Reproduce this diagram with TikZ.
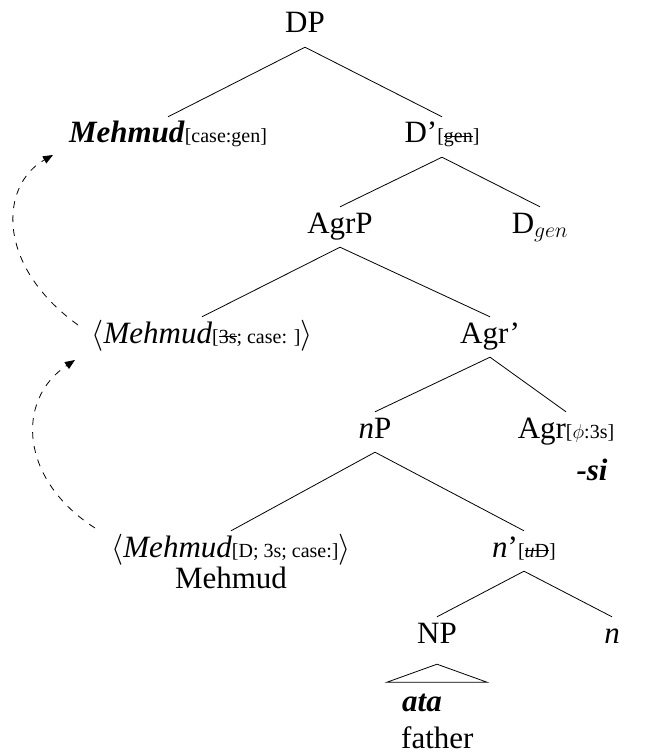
\RequirePackage{fix-cm}
\documentclass[tikz,border=0pt]{standalone}
\usepackage{fontspec}
\setmainfont{Liberation Serif}
\usetikzlibrary{arrows.meta}
\newcommand{\bigf}{\fontsize{31}{37}\selectfont}
\newcommand{\smf}{\fontsize{20}{24}\selectfont}
\newcommand{\strk}[1]{\setbox0=\hbox{#1}\rlap{\rule[0.3em]{\wd0}{0.8pt}}\box0}
\newcommand{\fe}[1]{{\smf[#1]}}
\begin{document}
\begin{tikzpicture}[x=1pt,y=-1pt,
  lbl/.style={anchor=base, inner xsep=0pt, inner ysep=4pt, text height=22pt, text depth=10pt, font=\bigf},
  edge/.style={line width=0.8pt},
  mv/.style={line width=0.8pt, dash pattern=on 7pt off 7pt, -{Triangle[length=10pt,width=8pt]}}]
\useasboundingbox (0,0) rectangle (649,754);
\node[lbl] (DP) at (305,33) {DP};
\node[lbl] (M1) at (168,143) {\textbf{\textit{Mehmud}}\/\fe{case:gen}};
\node[lbl] (Dbar) at (442,143) {D’\fe{\strk{gen}}};
\node[lbl] (AgrP) at (340,233) {AgrP};
\node[lbl] (Dgen) at (540,233) {D$_{gen}$};
\node[lbl] (T1) at (202,343) {$\langle$\textit{Mehmud}\/\fe{\strk{3s}; case: }$\rangle$};
\node[lbl] (Agrbar) at (490,343) {Agr’};
\node[lbl] (nP) at (375,438) {\textit{n}P};
\node[lbl] (Agr) at (566,438) {Agr\fe{$\phi$:3s}};
\node[lbl] (si) at (592,480) {\textbf{\textit{-si}}};
\node[lbl] (T2) at (231,557) {$\langle$\textit{Mehmud}\/\fe{D; 3s; case:}$\rangle$};
\node[lbl] (gl) at (231,588) {Mehmud};
\node[lbl] (nbar) at (524,557) {\textit{n}’\fe{\strk{\textit{u}D}}};
\node[lbl] (NP) at (437,643) {NP};
\node[lbl] (n) at (612,643) {\textit{n}};
\node[lbl, anchor=base west] (ata) at (402,711) {\textbf{\textit{ata}}};
\node[lbl, anchor=base west] (fa) at (401,748) {father};
\draw[edge] (DP.south) -- (M1.north);
\draw[edge] (DP.south) -- (Dbar.north);
\draw[edge] (Dbar.south) -- (AgrP.north);
\draw[edge] (Dbar.south) -- (Dgen.north);
\draw[edge] (AgrP.south) -- (T1.north);
\draw[edge] (AgrP.south) -- (Agrbar.north);
\draw[edge] (Agrbar.south) -- (nP.north);
\draw[edge] (Agrbar.south) -- (Agr.north);
\draw[edge] (nP.south) -- (T2.north);
\draw[edge] (nP.south) -- (nbar.north);
\draw[edge] (nbar.south) -- (NP.north);
\draw[edge] (nbar.south) -- (n.north);
\draw[edge] ([yshift=-7pt]NP.south) -- ++(-50,18) -- ++(100,0) -- cycle;
\coordinate (s1) at (95,528);
\coordinate (e1) at (75,360);
\draw[mv] (s1) .. controls (20,480) and (15,400) .. (e1);
\coordinate (s2) at (78,325);
\coordinate (e2) at (53,155);
\draw[mv] (s2) .. controls (-5,265) and (0,185) .. (e2);
\end{tikzpicture}
\end{document}
